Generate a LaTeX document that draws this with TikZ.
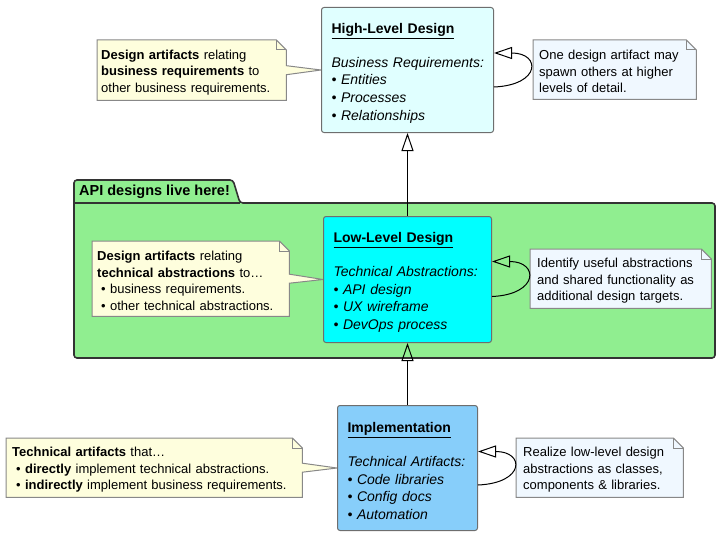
\documentclass[tikz,border=0pt]{standalone}
\usepackage{fontspec}
\setmainfont{Liberation Sans}
\usepackage{xcolor}
\usetikzlibrary{arrows.meta,backgrounds}
\definecolor{highfill}{HTML}{E0FFFF}
\definecolor{lowfill}{HTML}{00FFFF}
\definecolor{implfill}{HTML}{87CEFA}
\definecolor{pkgfill}{HTML}{90EE90}
\definecolor{notefill}{HTML}{FEFEDD}
\definecolor{infofill}{HTML}{F0F8FF}
\definecolor{boxline}{HTML}{6E6E6E}
\definecolor{noteline}{HTML}{888888}
\definecolor{pkgline}{HTML}{333333}
\hyphenpenalty=10000
\exhyphenpenalty=10000

\begin{document}
\begin{tikzpicture}[x=1pt,y=-1pt,
  box/.style={draw=boxline, line width=1pt, rounded corners=2.5pt, anchor=north west,
    align=left, inner xsep=10pt, inner ysep=0pt, font=\fontsize{14}{17.7}\selectfont,
    execute at begin node={\rule{0pt}{16.5pt}}},
  note/.style={anchor=north west, align=left, inner ysep=0pt,
    font=\fontsize{13}{16.6}\selectfont, execute at begin node={\rule{0pt}{13.5pt}}},
  outline/.style={draw=noteline, line width=1pt},
  gen/.style={-{Triangle[open,length=18pt,width=12pt]}, line width=1pt}]
\useasboundingbox (0,0) rectangle (720,535);

% package
\begin{scope}[on background layer]
\draw[fill=pkgfill, draw=pkgline, line width=1.6pt, rounded corners=3pt]
  (74,358) -- (74,180) -- (233,180) -- (240,203) -- (715,203) -- (715,358) -- cycle;
\draw[draw=pkgline, line width=1.6pt] (74,203) -- (240,203);
\end{scope}
\node[font=\bfseries\fontsize{14.5}{17}\selectfont, anchor=west, inner sep=0pt] (pkglbl) at (79,192) {API designs live here!};

% design levels
\node[box, fill=highfill, text width=152pt, minimum height=125pt] (hld) at (321,7)
  {\underline{\textbf{High-Level Design}}\\[16pt]
   \textit{Business~Requirements:}\\
   \textit{• Entities}\\
   \textit{• Processes}\\
   \textit{• Relationships}};
\node[box, fill=lowfill, text width=148pt, minimum height=126pt] (lld) at (323,216)
  {\underline{\textbf{Low-Level Design}}\\[16pt]
   \textit{Technical~Abstractions:}\\
   \textit{• API design}\\
   \textit{• UX wireframe}\\
   \textit{• DevOps process}};
\node[box, fill=implfill, text width=120pt, minimum height=125pt] (impl) at (337,405)
  {\underline{\textbf{Implementation}}\\[16pt]
   \textit{Technical~Artifacts:}\\
   \textit{• Code libraries}\\
   \textit{• Config docs}\\
   \textit{• Automation}};

\draw[gen] (lld.north) -- (hld.south);
\draw[gen] (impl.north) -- (lld.south);

% self loops
\draw[gen] ([yshift=-17pt]hld.east) .. controls ([xshift=47pt,yshift=-15pt]hld.east) and ([xshift=47pt,yshift=17pt]hld.east) .. ([yshift=17pt]hld.east);
\draw[gen] ([yshift=-17pt]lld.east) .. controls ([xshift=47pt,yshift=-15pt]lld.east) and ([xshift=47pt,yshift=18pt]lld.east) .. ([yshift=18pt]lld.east);
\draw[gen] ([yshift=-17pt]impl.east) .. controls ([xshift=47pt,yshift=-15pt]impl.east) and ([xshift=47pt,yshift=16.5pt]impl.east) .. ([yshift=16.5pt]impl.east);

% notes
\node[note, inner xsep=4pt, text width=181pt, minimum height=60pt] (bizn) at (97,40)
  {\textbf{Design artifacts} relating\\
   \textbf{business requirements} to\\
   other business requirements.};
\node[note, inner xsep=6pt, text width=151pt, minimum height=59pt] (spawnn) at (533,40)
  {One design artifact may\\
   spawn others at higher\\
   levels of detail.};
\node[note, inner xsep=5pt, text width=187pt, minimum height=75pt] (techn) at (92,241)
  {\textbf{Design artifacts} relating\\
   \textbf{technical abstractions} to…\\
   \hspace*{4pt}• business requirements.\\
   \hspace*{4pt}• other technical abstractions.};
\node[note, inner xsep=7pt, text width=167pt, minimum height=59pt] (usefuln) at (530,249)
  {Identify useful abstractions\\
   and shared functionality as\\
   additional design targets.};
\node[note, inner xsep=6pt, text width=284pt, minimum height=59pt] (artn) at (6,438)
  {\textbf{Technical artifacts} that…\\
   \hspace*{4pt}• \textbf{directly} implement technical abstractions.\\
   \hspace*{4pt}• \textbf{indirectly} implement business requirements.};
\node[note, inner xsep=7pt, text width=153pt, minimum height=59pt] (realn) at (516,438)
  {Realize low-level design\\
   abstractions as classes,\\
   components \& libraries.};

% note outlines
\begin{scope}[on background layer]
\draw[outline, fill=notefill] (bizn.north west) -- ([xshift=-10pt]bizn.north east) -- ([yshift=-10pt]bizn.north east)
  -- ([yshift=4.5pt]bizn.east) -- (hld.west) -- ([yshift=-4.5pt]bizn.east) -- (bizn.south east) -- (bizn.south west) -- cycle;
\draw[outline] ([xshift=-10pt]bizn.north east) -- ([xshift=-10pt,yshift=-10pt]bizn.north east) -- ([yshift=-10pt]bizn.north east);
\draw[outline, fill=notefill] (techn.north west) -- ([xshift=-10pt]techn.north east) -- ([yshift=-10pt]techn.north east)
  -- ([yshift=4.5pt]techn.east) -- (lld.west) -- ([yshift=-4.5pt]techn.east) -- (techn.south east) -- (techn.south west) -- cycle;
\draw[outline] ([xshift=-10pt]techn.north east) -- ([xshift=-10pt,yshift=-10pt]techn.north east) -- ([yshift=-10pt]techn.north east);
\draw[outline, fill=notefill] (artn.north west) -- ([xshift=-10pt]artn.north east) -- ([yshift=-10pt]artn.north east)
  -- ([yshift=4.5pt]artn.east) -- (impl.west) -- ([yshift=-4.5pt]artn.east) -- (artn.south east) -- (artn.south west) -- cycle;
\draw[outline] ([xshift=-10pt]artn.north east) -- ([xshift=-10pt,yshift=-10pt]artn.north east) -- ([yshift=-10pt]artn.north east);
\draw[outline, fill=infofill] (spawnn.north west) -- ([xshift=-10pt]spawnn.north east) -- ([yshift=-10pt]spawnn.north east)
  -- (spawnn.south east) -- (spawnn.south west) -- cycle;
\draw[outline] ([xshift=-10pt]spawnn.north east) -- ([xshift=-10pt,yshift=-10pt]spawnn.north east) -- ([yshift=-10pt]spawnn.north east);
\draw[outline, fill=infofill] (usefuln.north west) -- ([xshift=-10pt]usefuln.north east) -- ([yshift=-10pt]usefuln.north east)
  -- (usefuln.south east) -- (usefuln.south west) -- cycle;
\draw[outline] ([xshift=-10pt]usefuln.north east) -- ([xshift=-10pt,yshift=-10pt]usefuln.north east) -- ([yshift=-10pt]usefuln.north east);
\draw[outline, fill=infofill] (realn.north west) -- ([xshift=-10pt]realn.north east) -- ([yshift=-10pt]realn.north east)
  -- (realn.south east) -- (realn.south west) -- cycle;
\draw[outline] ([xshift=-10pt]realn.north east) -- ([xshift=-10pt,yshift=-10pt]realn.north east) -- ([yshift=-10pt]realn.north east);
\end{scope}
\end{tikzpicture}
\end{document}
